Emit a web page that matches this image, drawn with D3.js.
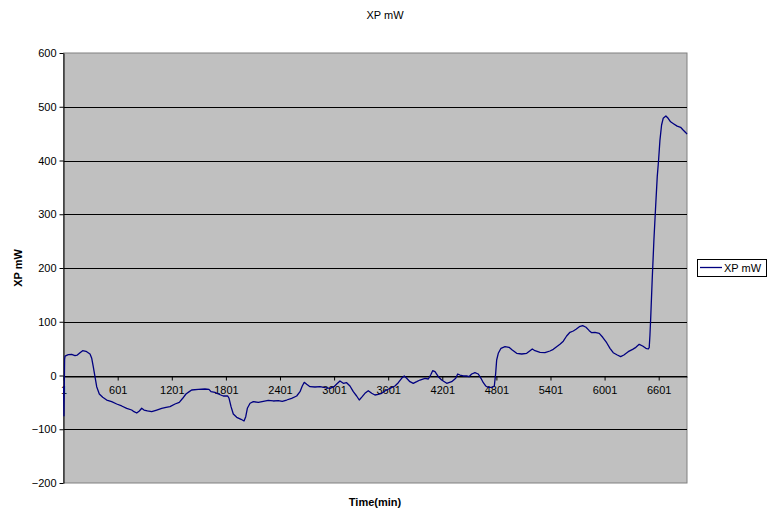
<!DOCTYPE html>
<html>
<head>
<meta charset="utf-8">
<script src="https://cdn.jsdelivr.net/npm/d3@7"></script>
<style>
  html, body { margin: 0; padding: 0; background: #fff; }
  svg { display: block; font-family: "Liberation Sans", Arial, sans-serif; }
</style>
</head>
<body>
<svg id="chart" width="768" height="510"></svg>
<script>
// Sample index (minutes) and XP power readings in mW
const minutes = [1,5,12,17,53,90,127,153,183,212,249,294,313,330,349,368,397,435,479,534,590,645,701,756,782,812,841,867,893,930,978,1034,1089,1137,1181,1237,1284,1322,1358,1395,1421,1495,1569,1613,1636,1680,1717,1772,1821,1836,1858,1883,1921,1969,2002,2021,2039,2069,2105,2161,2216,2271,2327,2382,2426,2475,2530,2586,2623,2648,2670,2697,2734,2789,2845,2900,2956,3000,3030,3066,3103,3140,3177,3214,3251,3280,3313,3343,3380,3418,3454,3491,3529,3565,3621,3676,3713,3750,3779,3806,3842,3879,3917,3954,4009,4046,4072,4094,4120,4157,4194,4250,4305,4350,4372,4397,4434,4471,4497,4527,4563,4600,4630,4656,4682,4711,4756,4778,4793,4804,4822,4852,4896,4941,4977,5026,5082,5137,5174,5199,5229,5285,5340,5395,5432,5469,5506,5543,5580,5617,5654,5684,5721,5758,5795,5831,5858,5894,5942,5980,6024,6061,6097,6142,6179,6215,6263,6312,6348,6385,6423,6459,6485,6496,6504,6512,6529,6548,6567,6585,6600,6615,6633,6651,6681,6706,6733,6769,6806,6844,6872,6902,6915];
const xpValues = [-20,-75,30,36,38.7,39.4,36.9,38,42.5,46.2,45,40,32,16.4,-2.2,-20.8,-34.4,-40.6,-45.6,-48.7,-53,-56.7,-61,-64.2,-67.3,-69.8,-66,-61,-64.2,-66,-67.3,-64.2,-61,-59.2,-58,-53,-49.9,-42.4,-34.4,-30,-27,-25.7,-25.1,-25.7,-30,-31.3,-34.4,-38.1,-38.1,-42.4,-58,-71.6,-77.8,-81.5,-84.7,-76.6,-61,-51.7,-48.7,-49.9,-48,-46.2,-47.4,-46.8,-48,-45.6,-42.4,-38.1,-30.1,-19.5,-12.7,-16.4,-20.8,-21.4,-20.8,-22.7,-23.8,-20.8,-15.8,-10.2,-14.5,-13.4,-19.5,-30.1,-38.1,-45.6,-39.4,-33.1,-28.3,-33.1,-36.3,-35,-33.1,-28.8,-23.8,-19.5,-13.4,-5.2,-0.9,-5.2,-11.5,-14.5,-11.5,-8.4,-5.2,-6.5,0.9,8.9,7.1,-2.2,-8.4,-14.5,-11.5,-5.2,2.8,0.9,-0.9,-0.9,-2.2,2.8,5.2,2.8,-5.2,-13.4,-19.5,-22,-22,-19.5,4,28.8,41.3,50.6,53.6,52.4,47.4,41.3,40,41.3,46.1,49.3,46.1,43.2,42.4,45.6,48.7,53.6,58,63.8,73.5,80.4,82.8,86,90.8,92.7,89.7,83.4,79.6,80.4,78.5,71.1,61,50.6,42.4,38.1,35,38.1,44.3,48.7,52.4,58,54.9,50.6,49.3,52,75,105,178,252,314,370,401,438,466,478.5,482.8,478.5,472,468,464,461.8,456.8,451.7,449];

const xTickValues = [1, 601, 1201, 1801, 2401, 3001, 3601, 4201, 4801, 5401, 6001, 6601];
const yTickValues = [-200, -100, 0, 100, 200, 300, 400, 500, 600];

const chartTitle = "XP mW";
const seriesName = "XP mW";
const xTitle = "Time(min)";
const yTitle = "XP mW";

const plot = { left: 63.6, right: 687, top: 53, bottom: 483 };
const svg = d3.select("#chart");

const x = d3.scaleLinear().domain([1, 6915]).range([plot.left, plot.right]);
const y = d3.scaleLinear().domain([-200, 600]).range([plot.bottom, plot.top]);

// Plot area background
svg.append("rect")
  .attr("x", plot.left).attr("y", plot.top)
  .attr("width", plot.right - plot.left).attr("height", plot.bottom - plot.top)
  .attr("fill", "#c0c0c0")
  .attr("stroke", "#808080").attr("stroke-width", 1);

// Horizontal gridlines
svg.append("g")
  .selectAll("line")
  .data(yTickValues.filter(v => v > -200 && v < 600))
  .join("line")
  .attr("x1", plot.left).attr("x2", plot.right)
  .attr("y1", d => Math.round(y(d)) + 0.5).attr("y2", d => Math.round(y(d)) + 0.5)
  .attr("stroke", "#000").attr("stroke-width", 1);

// Y axis
const yAxis = svg.append("g")
  .attr("transform", `translate(${Math.round(plot.left) - 0.5},0)`)
  .call(d3.axisLeft(y).tickValues(yTickValues).tickSize(4).tickSizeOuter(0).tickPadding(3));
yAxis.select(".domain").attr("stroke", "#000");
yAxis.selectAll(".tick line").attr("stroke", "#000");
yAxis.selectAll(".tick text").attr("font-size", 11).attr("fill", "#000")
  .attr("font-family", "Liberation Sans, Arial, sans-serif");

// X axis sits on the zero line
const xAxis = svg.append("g")
  .attr("transform", `translate(0,${Math.round(y(0)) + 0.5})`)
  .call(d3.axisBottom(x).tickValues(xTickValues).tickFormat(d3.format("d"))
    .tickSize(4).tickSizeOuter(0).tickPadding(6));
xAxis.select(".domain").attr("stroke", "#000");
xAxis.selectAll(".tick line").attr("stroke", "#000");
xAxis.selectAll(".tick text").attr("font-size", 11).attr("fill", "#000")
  .attr("font-family", "Liberation Sans, Arial, sans-serif");

// Data line
const points = minutes.map((m, i) => [m, xpValues[i]]);
svg.append("path")
  .datum(points)
  .attr("fill", "none")
  .attr("stroke", "#000080")
  .attr("stroke-width", 1.3)
  .attr("stroke-linejoin", "round")
  .attr("d", d3.line().x(d => x(d[0])).y(d => y(d[1])));

// Titles
svg.append("text")
  .attr("x", 385).attr("y", 19)
  .attr("text-anchor", "middle").attr("font-size", 11)
  .text(chartTitle);

svg.append("text")
  .attr("x", 375).attr("y", 506)
  .attr("text-anchor", "middle").attr("font-size", 11).attr("font-weight", "bold")
  .text(xTitle);

svg.append("text")
  .attr("transform", "translate(22,268) rotate(-90)")
  .attr("text-anchor", "middle").attr("font-size", 11).attr("font-weight", "bold")
  .text(yTitle);

// Legend
const legend = svg.append("g").attr("transform", "translate(697,259)");
legend.append("rect")
  .attr("x", 0.5).attr("y", 0.5).attr("width", 69).attr("height", 17)
  .attr("fill", "#fff").attr("stroke", "#000").attr("stroke-width", 1);
legend.append("line")
  .attr("x1", 3).attr("x2", 25).attr("y1", 8.5).attr("y2", 8.5)
  .attr("stroke", "#000080").attr("stroke-width", 1.3);
legend.append("text")
  .attr("x", 27).attr("y", 13)
  .attr("font-size", 11)
  .text(seriesName);
</script>
</body>
</html>
